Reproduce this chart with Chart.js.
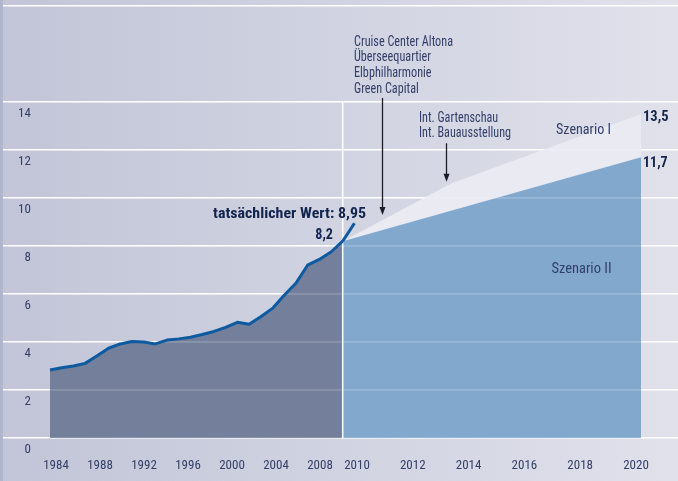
<!DOCTYPE html>
<html><head><meta charset="utf-8">
<script src="https://cdn.jsdelivr.net/npm/chart.js@4/dist/chart.umd.min.js"></script>
<style>html,body{margin:0;padding:0;background:#d0d3e1;overflow:hidden}#wrap{width:678px;height:481px}</style>
</head><body><div id="wrap"><canvas id="c" width="678" height="481"></canvas></div>
<script>
// ---- data ----
const histYears  = [1984,1985,1986,1987,1988,1989,1990,1991,1992,1993,1994,1995,1996,1997,1998,1999,2000,2001,2002,2003,2004,2005,2006,2007,2008,2009];
const histValues = [2.83,2.93,3.0,3.11,3.42,3.74,3.92,4.02,4.0,3.92,4.08,4.13,4.2,4.31,4.44,4.61,4.82,4.74,5.05,5.4,5.95,6.45,7.2,7.44,7.75,8.2];
const actualYears  = [2009, 2010];
const actualValues = [8.2, 8.95];
const scen1Years  = [2009, 2013, 2020];
const scen1Values = [8.2, 10.6, 13.5];
const scen2Years  = [2009, 2020];
const scen2Values = [8.2, 11.7];
const histTickYears = [1984,1988,1992,1996,2000,2004,2008];
const projTickYears = [2010,2012,2014,2016,2018,2020];
const yTickValues = [0,2,4,6,8,10,12,14];
const eventsA = ['Cruise Center Altona','Überseequartier','Elbphilharmonie','Green Capital'];
const eventsB = ['Int. Gartenschau','Int. Bauausstellung'];
const scen1Label = 'Szenario I', scen2Label = 'Szenario II';
const actualLabel = 'tatsächlicher Wert: 8,95';

// ---- style ----
const NARROW = '"Liberation Sans Narrow","Arial Narrow","Roboto Condensed",sans-serif';
const TXT = '#34406a', BOLD = '#13254e';
const pts = (xs, ys) => xs.map((x, i) => ({x, y: ys[i]}));
const tickYears = histTickYears.concat(projTickYears);
const fmt = v => String(v).replace('.', ',');
// label placement on the historical axis (tick labels are spaced independently of the data in the original)
const histLabelPos = y => 1984.51 + (y - 1984) * 0.9396;
const projLabelPos = y => 2010.22 + (y - 2010) * 2.383;

const bgPlugin = {
  id: 'bg',
  beforeDraw(chart) {
    const {ctx, width, height} = chart;
    const g = ctx.createLinearGradient(0, 0, width, 0);
    g.addColorStop(0, '#c1c5d7'); g.addColorStop(1, '#e0e1eb');
    ctx.save(); ctx.fillStyle = g; ctx.fillRect(0, 0, width, height);
    ctx.fillStyle = '#b2b6ca'; ctx.fillRect(0, 0, 3, height);
    ctx.restore();
  }
};
const overlayGrid = {
  id: 'overlayGrid',
  afterDatasetDraw(chart, args) {
    if (args.index !== 2) return;
    const {ctx, chartArea} = chart; const y = chart.scales.y; const x = chart.scales.x;
    ctx.save(); ctx.strokeStyle = 'rgba(255,255,255,0.2)'; ctx.lineWidth = 1.5;
    const l = x.getPixelForValue(histYears[0]);
    yTickValues.forEach(v => { const py = y.getPixelForValue(v); ctx.beginPath(); ctx.moveTo(l, py); ctx.lineTo(chartArea.right, py); ctx.stroke(); });
    ctx.restore();
  }
};
function arrow(ctx, x, y0, y1) {
  ctx.beginPath(); ctx.moveTo(x, y0); ctx.lineTo(x, y1 - 6); ctx.stroke();
  ctx.beginPath(); ctx.moveTo(x - 3, y1 - 8); ctx.lineTo(x + 3, y1 - 8); ctx.lineTo(x, y1); ctx.closePath(); ctx.fill();
}
// draw text stretched to the width it has in the original (condensed face)
function fitText(ctx, text, x, y, f) {
  ctx.save(); ctx.translate(x, y); ctx.scale(f, 1); ctx.fillText(text, 0, 0); ctx.restore();
}
const factor = (ctx, text, w) => w / ctx.measureText(text).width;
const notesPlugin = {
  id: 'notes',
  afterDraw(chart) {
    const {ctx} = chart; const x2 = chart.scales.x2, y = chart.scales.y;
    ctx.save();
    ctx.textBaseline = 'middle'; ctx.textAlign = 'left';
    ctx.fillStyle = TXT; ctx.font = '14px ' + NARROW;
    let f = factor(ctx, eventsA[0], 99);
    eventsA.forEach((t, i) => fitText(ctx, t, 354, 42 + i * 15.7, f));
    f = factor(ctx, eventsB[1], 92);
    eventsB.forEach((t, i) => fitText(ctx, t, 419, 118 + i * 15.3, f));
    ctx.font = '15px ' + NARROW;
    fitText(ctx, scen1Label, 556, 130, factor(ctx, scen1Label, 55));
    fitText(ctx, scen2Label, 551.5, 269, factor(ctx, scen2Label, 60));
    ctx.fillStyle = BOLD; ctx.font = 'bold 15px ' + NARROW;
    const t1 = fmt(scen1Values[scen1Values.length-1]), t2 = fmt(scen2Values[scen2Values.length-1]);
    fitText(ctx, t1, 643, 117, factor(ctx, t1, 25.6));
    fitText(ctx, t2, 643, 163, factor(ctx, t2, 24.7));
    ctx.textAlign = 'right';
    fitText(ctx, actualLabel, 366, 214, factor(ctx, actualLabel, 153));
    const t3 = fmt(histValues[histValues.length-1]);
    fitText(ctx, t3, 333, 235, factor(ctx, t3, 17.7));
    ctx.strokeStyle = '#1d1d24'; ctx.fillStyle = '#1d1d24'; ctx.lineWidth = 1.3;
    arrow(ctx, Math.round(x2.getPixelForValue(2010.44)) + 0.5, y.getPixelForValue(14.17), y.getPixelForValue(9.29));
    arrow(ctx, Math.round(x2.getPixelForValue(2012.8)) + 0.5, y.getPixelForValue(12.28), y.getPixelForValue(10.68));
    ctx.restore();
  }
};

new Chart(document.getElementById('c'), {
  type: 'line',
  data: {
    datasets: [
      {data: pts(scen1Years, scen1Values), xAxisID: 'x2', fill: 'origin', backgroundColor: '#e9eaf2', borderWidth: 0, pointRadius: 0, tension: 0, order: 6},
      {data: pts(scen2Years, scen2Values), xAxisID: 'x2', fill: 'origin', backgroundColor: '#82a8ce', borderWidth: 0, pointRadius: 0, tension: 0, order: 5},
      {data: pts(histYears, histValues), xAxisID: 'x', fill: 'origin', backgroundColor: '#74809b', borderWidth: 0, pointRadius: 0, tension: 0, order: 4},
      {data: [{x: 2009, y: 0}, {x: 2009, y: 14}], xAxisID: 'x', borderColor: '#ffffff', borderWidth: 1.5, pointRadius: 0, fill: false, order: 3},
      {data: pts(actualYears, actualValues), xAxisID: 'x', borderColor: '#0d5aa0', borderWidth: 3, pointRadius: 0, fill: false, order: 2},
      {data: pts(histYears, histValues), xAxisID: 'x', borderColor: '#0d5aa0', borderWidth: 3, pointRadius: 0, fill: false, tension: 0, borderJoinStyle: 'round', order: 1}
    ]
  },
  options: {
    responsive: false, animation: false, devicePixelRatio: 1,
    layout: {padding: {left: 0, right: 0, top: 6, bottom: 0}},
    plugins: {legend: {display: false}, tooltip: {enabled: false}},
    scales: {
      x: {
        type: 'linear', min: 1979.986, max: 2037.639,
        grid: {display: false}, border: {display: false},
        afterBuildTicks: axis => { axis.ticks = histTickYears.map(histLabelPos).concat(projTickYears.map(projLabelPos)).map(v => ({value: v})); },
        afterFit: axis => { axis.height = 43; axis.paddingLeft = 0; axis.paddingRight = 0; },
        ticks: {autoSkip: false, maxRotation: 0, minRotation: 0, padding: 12, color: TXT,
          font: {family: NARROW, size: 13}, callback: (v, i) => String(tickYears[i])}
      },
      x2: {type: 'linear', min: 1996.473, max: 2021.364, display: false},
      y: {
        min: 0, max: 18,
        afterBuildTicks: axis => { axis.ticks = yTickValues.concat([18]).map(v => ({value: v})); },
        afterFit: axis => { axis.width = 3; axis.paddingTop = 0; axis.paddingBottom = 0; },
        grid: {color: '#ffffff', lineWidth: 1.5, drawTicks: false},
        border: {display: false},
        ticks: {mirror: true, crossAlign: 'far', padding: 15, labelOffset: 12, color: TXT,
          font: {family: NARROW, size: 13}, callback: v => yTickValues.includes(v) ? String(v) : ''}
      }
    }
  },
  plugins: [bgPlugin, overlayGrid, notesPlugin]
});
</script></body></html>
